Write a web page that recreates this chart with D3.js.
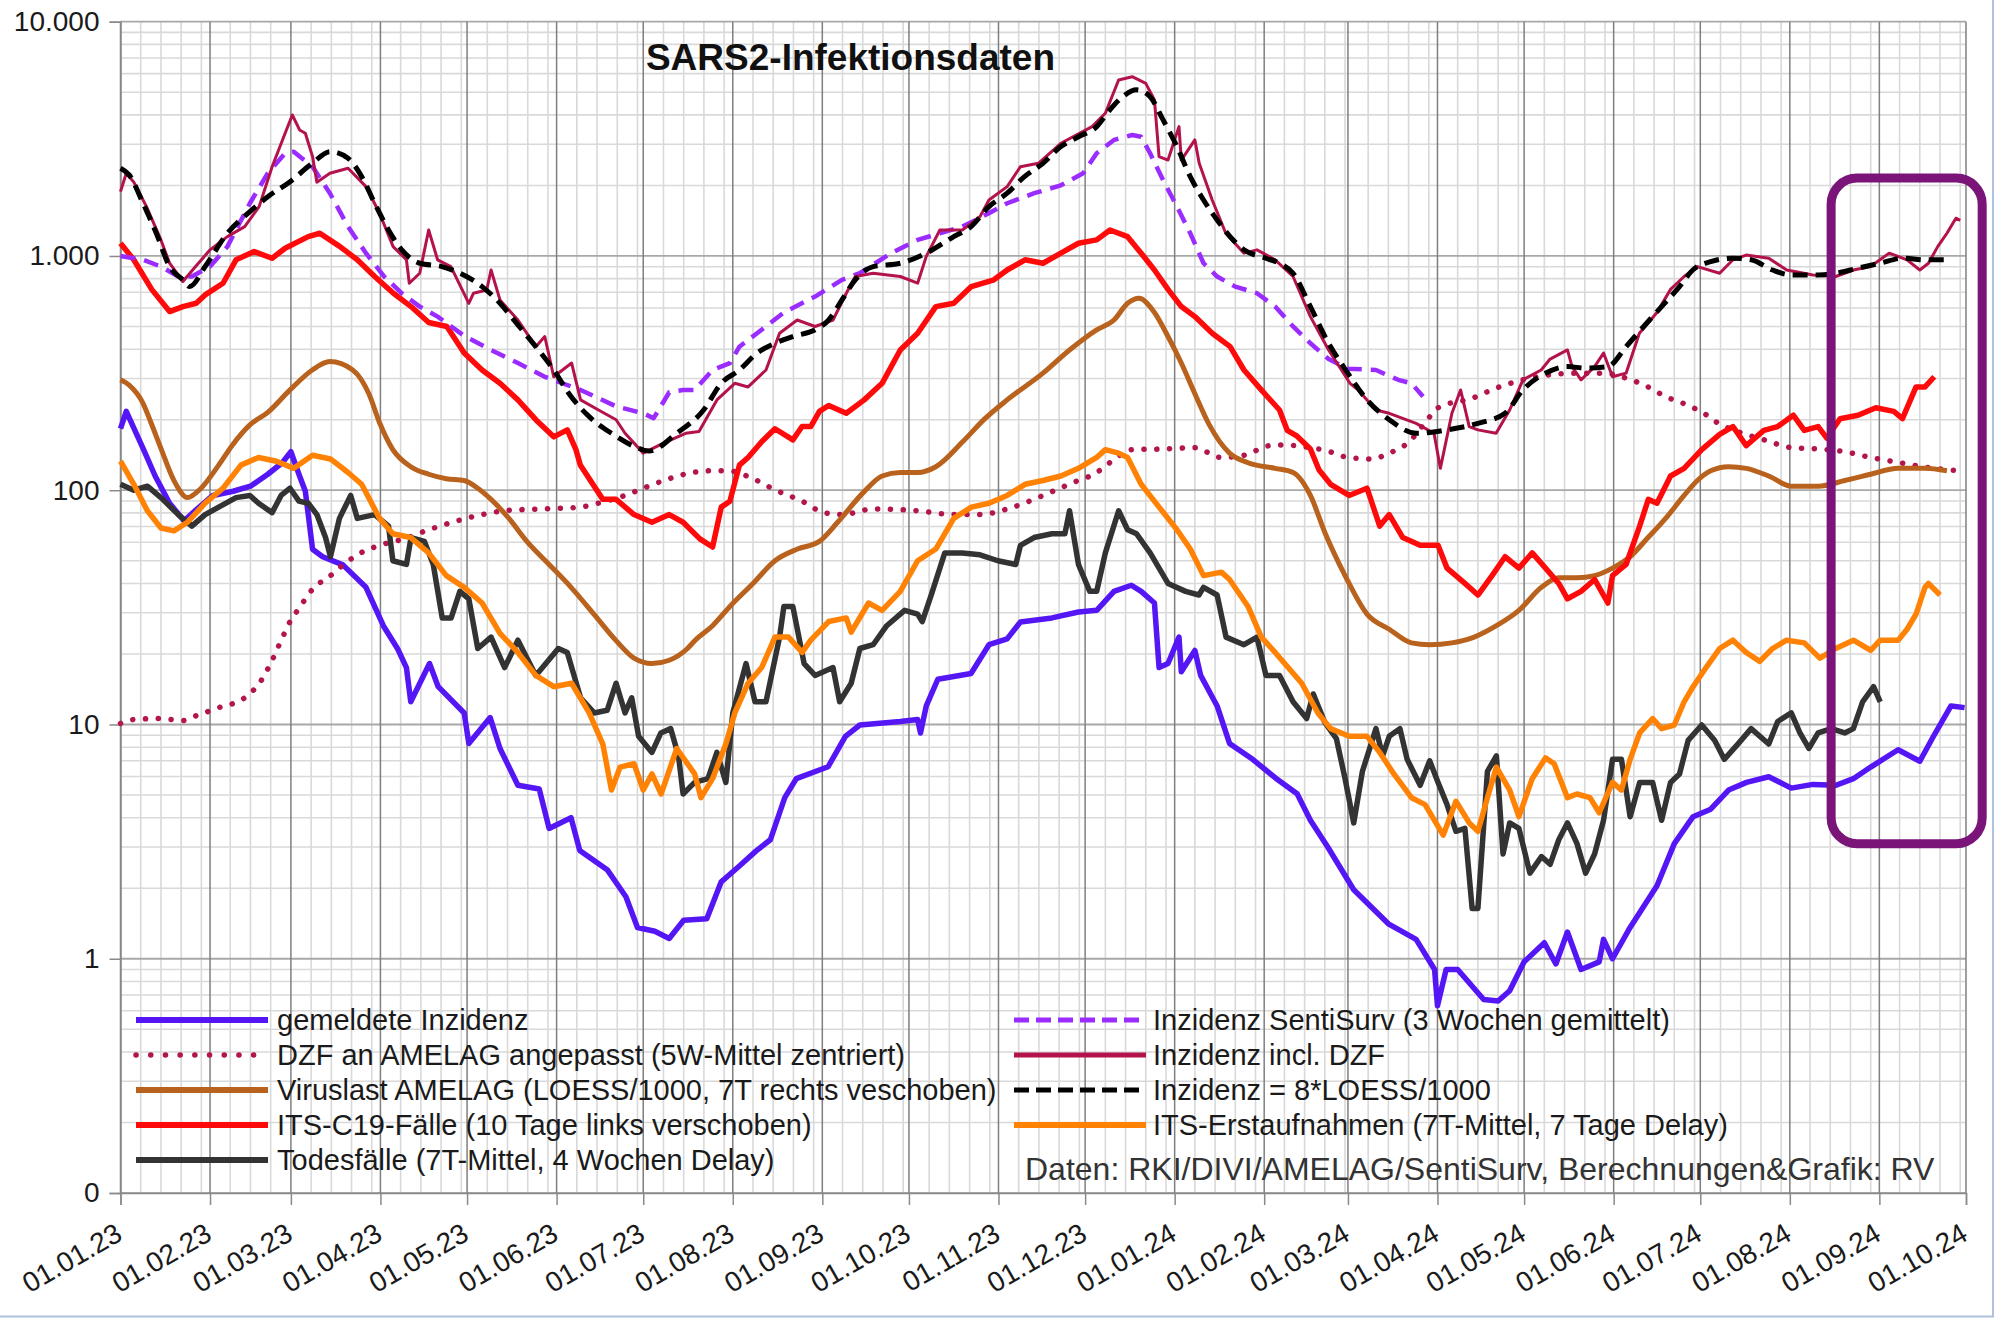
<!DOCTYPE html>
<html><head><meta charset="utf-8">
<script src="https://cdn.jsdelivr.net/npm/d3@7"></script>
<style>
html,body{margin:0;padding:0;background:#fff;}
svg{display:block;font-family:"Liberation Sans",Arial,sans-serif;}
</style>
</head><body>
<svg id="chart" width="2000" height="1318"></svg>
<script>
// ---------- DATA (x = day offset from 01.01.2023, y = value) ----------
const gemeldeteInzidenz = [[0,183],[2,217],[8,149],[12,115],[17,88],[22,74],[26,82],[32,95],[39,99],[45,104],[51,117],[56,131],[59,146],[62,115],[64,99],[66.5,56],[70,52],[77,48],[85,38.5],[91,26.4],[96,21],[99,17.5],[100.5,12.5],[107,18.2],[110,14.5],[119,11.2],[120.6,8.3],[128,10.7],[131.4,7.9],[137.6,5.5],[145,5.3],[148.4,3.6],[156,4.0],[159,2.9],[168.5,2.4],[175,1.84],[179,1.36],[185,1.31],[190,1.22],[195,1.46],[203,1.48],[208,2.13],[214,2.47],[220,2.88],[225,3.22],[230,4.87],[234,5.87],[245,6.6],[251,8.9],[256,9.95],[270,10.3],[276,10.5],[277,9.2],[279,12],[283,15.6],[294.5,16.5],[300.7,21.9],[307,23.2],[311.6,27.4],[322.5,28.5],[331.7,30.2],[338,30.7],[344,37],[350,39.3],[353.4,37],[358,33],[359.6,17.5],[362.7,18.2],[366.5,23.6],[367.3,16.8],[372,20.7],[374,16.2],[379.7,12],[384,8.3],[392,7.1],[400,5.9],[407.4,5.06],[412,3.9],[418,3.0],[427,1.97],[439,1.41],[448.6,1.21],[455,0.9],[456,0.63],[459,0.9],[463,0.9],[472,0.67],[477,0.66],[481,0.73],[486,0.97],[493,1.17],[497,0.95],[501,1.3],[505.7,0.9],[512,0.97],[513.5,1.21],[516.6,1.0],[522.7,1.36],[532,2.05],[538,3.1],[544.5,4.04],[550.6,4.35],[556.8,5.25],[563,5.66],[570.7,5.98],[578.5,5.35],[586,5.55],[594,5.5],[600,5.87],[606,6.58],[615.5,7.8],[623,6.97],[627.7,8.89],[633.8,12],[638.5,11.8]];

const dzfAngepasst = [[0,10.1],[4.6,10.5],[13,10.6],[21.6,10.4],[26.2,10.9],[34,11.8],[43,13],[49,15.6],[52.5,18.8],[55.6,22.8],[58.7,27.5],[61.8,31.3],[66.5,37.8],[72.7,43.2],[77.3,48.2],[82,53],[89.7,58.2],[97.4,61.6],[106.7,67.8],[115.9,73.6],[125.2,78.7],[132.9,81.7],[145.3,83.2],[159.2,84.7],[165.4,88],[174.7,95],[181,102],[190,112],[198,119],[204,121],[210.4,121],[219,112],[226.6,100.4],[236,89.8],[243.6,80.2],[250,78.7],[260.6,83.2],[276,81.7],[288.5,78.7],[297.6,78.7],[307,83.2],[314.7,89.8],[322.5,98.6],[330,108],[338,119],[342.5,131],[350.3,149],[361,150],[372,152],[381,138],[389,141],[398,155],[403,156],[412,152],[418,147],[425,138],[433,136],[439.3,144],[446.2,161],[451.7,194],[456.2,225],[468,247],[476.4,273],[485.6,296],[495,311],[504.3,316],[513.5,316],[519.7,305],[528.9,276],[535,251],[541.4,234],[548.5,212],[553,194],[560,178],[569.2,164],[578.5,152],[587.8,150],[597,146],[606,138],[614.7,132],[624,126],[637,121]];

const viruslastAmelag = [[0,296],[3,281],[7.8,235],[10.5,195],[13.9,152],[18.5,110],[23.2,93],[27.9,102],[34,128],[38.6,155],[44.8,190],[51,215],[58.7,268],[66.4,326],[72.5,354],[80.4,326],[86,258],[89.7,194],[94.3,149],[100.5,126],[106.7,117],[112.8,112],[119,110],[123.7,102],[128.3,91.4],[134.5,75.8],[140.7,60.5],[148.4,48.2],[156,38.5],[163.9,29.6],[171.6,22.8],[177.8,19.2],[184,18.2],[190,18.8],[196.3,21.1],[199,22.9],[205,26.4],[211,31.9],[219,40],[226.6,50],[234.4,56.1],[242,60.5],[248.3,73],[257.5,98.6],[263.7,115],[270,119],[276,119],[282.3,126],[291.6,161],[299.3,202],[307,243],[319.4,316],[328.6,397],[338,484],[344,533],[348.7,628],[352.6,660],[358,574],[362.7,453],[367.3,349],[372,258],[377,190],[384,144],[390.4,131],[399.8,124],[406,119],[412,95],[417,66],[424,43.2],[431.6,29.6],[439.3,25.5],[447,22.3],[453.3,21.9],[461,22.3],[468.7,23.6],[476.4,26.4],[484.2,30.7],[492,38.5],[498,42.3],[504.3,42.3],[510.4,43.2],[516.6,46.5],[522.7,52],[528.9,62.8],[535,75.8],[541.4,95],[546,110],[550.6,121],[556.8,126],[562.9,124],[570.7,115],[578.5,104],[587.8,104],[597,110],[606,117],[615.5,124],[624.8,124],[632.4,121]];

const itsFaelle = [[0,1133],[4.6,963],[10.8,720],[17,579],[21.6,608],[26.2,628],[29.3,682],[35.5,765],[40,963],[46.3,1044],[52.5,978],[57,1079],[65,1209],[69,1250],[76,1096],[82,963],[88,817],[94.5,693],[100.6,608],[106.7,520],[113,500],[119,385],[125.2,326],[131.4,286],[137.6,243],[143.8,200],[150,169],[154.7,181],[157.7,149],[159.2,128],[167,91.4],[171.6,91.4],[177.8,78.7],[184,73],[190,78.7],[194.8,73],[200.6,62],[205,57.2],[208,84.7],[211,89.8],[214.3,128],[217.3,138],[222,161],[226.6,183],[232.8,164],[236,187],[239,187],[242,217],[245.2,230],[251.3,213],[257.5,243],[263.7,286],[270,397],[276,468],[282.3,608],[288.5,628],[294.6,740],[302.4,791],[307,871],[313.2,963],[319.4,931],[325.6,1028],[331.7,1133],[338,1171],[342.6,1291],[348.7,1209],[353.4,1028],[358,871],[362.7,720],[367.3,608],[372,551],[378,468],[384.2,410],[389,326],[395,268],[401.3,220],[404,180],[407.4,170],[412,150],[415,122],[419,106],[425.4,95],[431.6,102],[436,70.3],[439.3,78.7],[444,62.8],[450,58.2],[456.2,58.2],[459.3,46.5],[465.5,40],[470,35.7],[474.9,43.2],[479.4,52],[484.2,46.5],[488.8,54],[493.4,46.5],[498,40],[501,34.4],[505.7,37],[510.4,41.6],[515,33],[516.6,43.2],[521.3,48.2],[526,70.3],[529,91.4],[532,88],[536.7,115],[541.4,124],[547.5,149],[553.7,173],[558.3,187],[562.9,155],[569,180],[573.8,187],[579.2,209],[583,180],[587.8,187],[590.8,167],[595.4,202],[601.6,209],[607.8,225],[614,217],[617,202],[621.7,276],[624.8,276],[628,305]];

const todesfaelle = [[0,106],[4.6,100],[9.3,104],[14,93],[20,78.7],[24.7,70.3],[29.3,78.7],[34,84.7],[40,93],[44.8,95],[47.8,88],[52.5,80.2],[55.6,95],[58.7,102],[61.8,89.8],[65,88],[68,78.7],[71,62.8],[72.7,52],[75.8,75.8],[79.7,95],[82,75.8],[88,78.7],[92.8,70.3],[94.3,50],[99,48.2],[100.6,62.8],[105.2,60.5],[108.3,48.2],[111.4,28.5],[114.5,28.5],[117.5,37],[120.6,34.4],[123.7,21.1],[128.3,23.6],[133,17.5],[137.6,22.9],[143.8,16.2],[151.6,21.1],[154.7,20.3],[159.3,13],[164,11.2],[168.5,11.5],[171.6,15],[174.7,11.2],[177,13],[179.4,8.9],[184,7.6],[187.1,9.2],[190.5,9.6],[193.2,7.35],[194.8,5.05],[198.8,5.66],[203.4,5.87],[206.5,7.6],[209.6,5.66],[212,11.2],[216.6,18.2],[219.7,12.5],[223.5,12.5],[228.2,23.6],[229.7,31.9],[232.8,31.9],[236.7,18.2],[240.5,16.2],[246.7,17.5],[249,12.5],[253,15],[256,21.1],[260.6,21.9],[265.3,26.4],[271.5,30.7],[276,29.6],[277.6,27.5],[280.7,35.7],[285.4,54],[291.5,54],[297.6,53],[303.8,50],[310,48.2],[311.6,58.2],[316.3,62.8],[322.5,65.2],[327,65.2],[328.6,81.7],[331.7,48.2],[335.6,37],[338,37],[341,54],[345.6,81.7],[348.7,67.8],[351.8,65.2],[356.5,54],[362.7,40],[368.8,37],[373.4,35.7],[375,38.5],[379.7,35.7],[382.8,23.6],[389,21.9],[393.5,23.6],[396.6,16.2],[401.3,16.2],[406,12.5],[410.7,10.6],[413,13.5],[417,10.2],[421,8.7],[424,5.87],[427,3.8],[430,6.3],[434.7,9.6],[437,7.35],[439.3,8.9],[443,9.6],[445.5,7.1],[450,5.5],[453.3,7],[456.2,5.66],[459.3,4.55],[462.4,3.5],[465.5,3.6],[468,1.64],[470,1.64],[473.3,6.3],[476.4,7.35],[478.7,2.8],[481,3.8],[484.2,3.6],[488,2.32],[492,2.73],[495,2.53],[498,3.22],[501,3.8],[504.3,3.1],[507.3,2.32],[510.4,2.8],[513.5,3.9],[516.6,7.1],[519.7,7.1],[522.7,4.04],[526,5.66],[530.5,5.66],[533.6,3.9],[536.7,5.66],[539.8,6.15],[542.8,8.55],[547.5,9.95],[552,8.55],[555.3,7.1],[560,8.25],[564.6,9.6],[570.7,8.25],[573.8,10.3],[578.5,11.2],[581.5,9.2],[584.6,7.9],[587.8,9.2],[592.4,9.6],[597,9.2],[600,9.6],[603.2,12.5],[607,14.5],[609.3,12.5]];

const sentiSurv = [[0,1000],[7.8,963],[14,901],[20,817],[24.7,817],[31,901],[37,1096],[44.8,1679],[51,2254],[57,2744],[60,2788],[66.5,2405],[72.5,1853],[78.8,1334],[85,1028],[91.3,817],[97.4,693],[103.6,608],[109.8,551],[119,456],[128.3,397],[137.6,349],[146.9,305],[159.3,268],[171.6,228],[181,213],[184.6,203],[190,262],[194.8,268],[198.8,268],[205,326],[211,349],[214.3,410],[220.4,468],[229.7,574],[240.5,671],[249.8,791],[256,844],[266.8,1028],[276,1171],[283.7,1250],[291.5,1334],[300.7,1521],[307,1679],[316.4,1853],[325.6,2003],[333.3,2254],[338,2744],[344,3128],[350.3,3285],[353.4,3228],[356.5,2744],[361,2106],[365.8,1624],[370.4,1250],[375,931],[379.7,817],[386,740],[393.5,693],[399.8,608],[406,500],[412,424],[418.3,363],[425,330],[434.7,326],[442.4,296],[447,286],[451,251]];

const inzidenzInclDzf = [[0,1882],[2,2254],[4.6,2066],[9,1624],[14,1171],[17,931],[21.6,778],[26,901],[31,1062],[37,1209],[43,1334],[48,1624],[52.5,2405],[57,3339],[59.5,3997],[62,3450],[64,3339],[66.5,2655],[68,2066],[72.5,2254],[78.8,2368],[85,1977],[89.7,1521],[94.4,1096],[99,963],[100,765],[103.6,844],[106.7,1291],[109.8,963],[114.4,901],[120.6,628],[122.2,693],[126.8,716],[128.3,871],[131.4,649],[137.6,533],[143.8,410],[146.9,453],[150,305],[156.2,349],[159.3,243],[165.5,220],[171.6,200],[174.7,175],[181,144],[188,159],[195.7,175],[200.3,178],[206.5,243],[212.7,286],[217.3,276],[223.5,326],[228.2,468],[234.3,533],[240.5,500],[246.7,533],[251.3,693],[254.4,817],[260.6,844],[270,817],[276,765],[279,996],[283.7,1291],[291.5,1291],[297.6,1472],[300.7,1734],[307,1977],[311.6,2405],[317.8,2486],[325.6,3027],[336.4,3565],[341,4064],[345.6,5641],[350.3,5825],[355,5457],[358,4633],[359.6,2655],[362.7,2567],[366.5,3565],[367.3,2567],[372,3128],[373.5,2486],[378,1734],[382.7,1250],[389,1028],[393.5,1062],[399.8,963],[406,817],[412,551],[418.3,397],[425.7,286],[428.5,268],[434.7,220],[439.3,213],[448.6,193],[454.8,175],[457,124],[461,213],[464,268],[467,187],[470,181],[476.3,175],[481,220],[485.6,296],[491.9,326],[495,363],[501,397],[502.6,337],[505.7,296],[510.4,337],[513.5,385],[516.6,305],[521.3,316],[525.9,468],[532,574],[536.7,720],[541.4,817],[546,901],[553.7,844],[558.3,963],[562.9,1009],[570.7,978],[576.9,871],[586,830],[593.9,817],[600,871],[606,901],[612.4,1028],[618.6,963],[623,871],[626,931],[629.2,1096],[632.4,1250],[635.5,1449],[637,1420]];

const inzidenzLoess = [[0,2368],[3,2218],[7.8,1679],[12.4,1250],[17,901],[21.6,791],[24,740],[29.3,901],[37,1250],[44.8,1546],[51,1791],[58.7,2076],[66.4,2486],[72.5,2788],[78.8,2612],[83.5,2181],[88,1679],[92.8,1291],[97.4,1062],[103.6,931],[111.3,901],[117.5,844],[125.2,740],[131.4,628],[137.6,508],[143.8,410],[150,326],[156,251],[162.3,206],[170,175],[177.8,154],[183,147],[192.6,175],[201.9,220],[208,286],[214.3,326],[220.4,385],[226.6,424],[232.8,453],[240.5,484],[245.2,533],[249.8,649],[254.4,791],[260.6,901],[270,931],[279,1028],[288.5,1209],[294.5,1334],[300.7,1624],[307,1853],[313,2181],[319.4,2486],[325.6,2930],[331.7,3228],[338,3565],[342.5,4198],[347,4786],[351.8,5117],[356.5,4786],[361,3808],[365.8,2930],[370.4,2181],[375,1734],[379.7,1425],[384.2,1209],[389,1062],[396.6,978],[401.2,931],[406,844],[412,608],[418,430],[424.3,325],[431.6,243],[439.3,200],[448.6,175],[459.3,181],[470,193],[479.4,213],[485.6,268],[493.4,316],[501,337],[507.3,332],[515,337],[521.3,410],[527.4,500],[533.6,608],[539.8,740],[544.4,871],[550.6,946],[558.3,978],[564.6,963],[572,871],[578.5,830],[587.8,830],[593.9,844],[601.6,887],[609.3,931],[617,978],[624.8,963],[632.5,963]];

const itsErstaufnahmen = [[0,133],[4.6,106],[9.3,81.7],[14,69],[18.5,67.1],[23.2,73],[29.3,88],[35.5,102],[41.7,128],[47.8,138],[54,133],[60,124],[66.5,141],[72.7,136],[78.8,119],[83.5,106],[89.7,75.8],[94.3,65.2],[100.5,62.8],[106.7,54],[112.8,43.2],[119,38.5],[125.2,33],[131.4,24.5],[137.6,20.3],[143.8,16.2],[150,14.5],[156.2,15],[162.3,11.2],[167,8.25],[170,5.25],[173,6.58],[177.8,6.8],[181,5.25],[184,6.15],[187.2,5.05],[192.6,7.9],[198.8,6.15],[201,4.87],[205,5.87],[209.6,8.25],[212.7,11.2],[217.3,15],[222,17.5],[226.6,23.6],[231.3,23.6],[236,20.3],[239,22.9],[245.2,27.5],[251.3,28.5],[253,24.8],[259,33],[263.7,30.7],[270,37],[276,50],[282.3,56.1],[288.5,75.8],[294.6,84.7],[300.7,88],[307,95],[313.2,106],[319.4,110],[325.6,115],[331.7,124],[338,138],[341,149],[345.6,144],[348.7,138],[353.4,106],[359.6,84.7],[365.8,67.8],[370.4,56.1],[375,43.2],[381.2,44.7],[384,41.6],[390.4,31.9],[395,23.6],[399.8,20.3],[404.3,17.5],[409,15],[414.6,11.2],[419,9.6],[425.4,8.9],[431.6,8.9],[436,7.6],[440.9,6.15],[447,4.87],[451.7,4.55],[458,3.37],[462.4,4.7],[467,3.8],[470,3.5],[473.3,4.87],[476.4,6.58],[481,5.25],[484.2,4.04],[488.8,5.87],[493.4,7.2],[496.4,6.8],[501,4.87],[504.3,5.05],[508.8,4.87],[512,4.2],[516.6,5.66],[519.7,5.25],[522.7,7.1],[526,9.2],[530.5,10.6],[533.6,9.6],[538,9.95],[541.4,12.5],[544.5,14.5],[549,17.5],[553.7,21.1],[558.3,22.9],[562.9,20.3],[567.6,18.6],[572,21.1],[576.9,22.9],[583,22.3],[588.4,19.2],[593.9,21.1],[600,22.9],[606,20.7],[609.3,22.9],[615.5,22.9],[618.6,25.5],[621.7,29.6],[624.8,38.5],[626,40],[630,35.7]];

const xTickLabels = ["01.01.23","01.02.23","01.03.23","01.04.23","01.05.23","01.06.23","01.07.23","01.08.23","01.09.23","01.10.23","01.11.23","01.12.23","01.01.24","01.02.24","01.03.24","01.04.24","01.05.24","01.06.24","01.07.24","01.08.24","01.09.24","01.10.24"];
const yTickValues = [0.1, 1, 10, 100, 1000, 10000];
const yTickLabels = ["0", "1", "10", "100", "1.000", "10.000"];
const legendLeft = ["gemeldete Inzidenz","DZF an AMELAG angepasst (5W-Mittel zentriert)","Viruslast AMELAG (LOESS/1000, 7T rechts veschoben)","ITS-C19-Fälle (10 Tage links verschoben)","Todesfälle (7T-Mittel, 4 Wochen Delay)"];
const legendRight = ["Inzidenz SentiSurv (3 Wochen gemittelt)","Inzidenz incl. DZF","Inzidenz = 8*LOESS/1000","ITS-Erstaufnahmen (7T-Mittel, 7 Tage Delay)"];
const titleText = "SARS2-Infektionsdaten";
const sourceText = "Daten: RKI/DIVI/AMELAG/SentiSurv, Berechnungen&Grafik: RV";
// highlighted region (annotation): day range and value range
const highlight = {from: 592.3, to: 644.6, top: 2150, bottom: 3.1};

// ---------- CHART ----------
const START = Date.UTC(2023, 0, 1);
const toDate = d => new Date(START + d * 86400000);
const svg = d3.select("#chart");
const x = d3.scaleUtc().domain([new Date(START), new Date(Date.UTC(2024, 9, 1))]).range([120.5, 1966]);
const y = d3.scaleLog().domain([0.1, 10000]).range([1193, 21.7]);
const [X0, X1] = x.range();
const [Y0, Y1] = y.range();

const grid = svg.append("g");
const minorY = [];
yTickValues.slice(0, -1).forEach(v => { for (let k = 2; k <= 9; k++) minorY.push(v * k); });
grid.selectAll(".hmin").data(minorY).join("line")
  .attr("x1", X0).attr("x2", X1).attr("y1", d => y(d)).attr("y2", d => y(d))
  .attr("stroke", "#d9d9d9").attr("stroke-width", 1.6);
const monthStarts = d3.utcMonth.range(new Date(START), new Date(Date.UTC(2024, 9, 2)));
const minorX = [];
monthStarts.forEach(m => {
  const next = d3.utcMonth.offset(m, 1);
  for (let k = 7; k <= 28; k += 7) {
    const d = d3.utcDay.offset(m, k);
    if (d < next && d < x.domain()[1]) minorX.push(d);
  }
});
grid.selectAll(".vmin").data(minorX).join("line")
  .attr("x1", d => x(d)).attr("x2", d => x(d)).attr("y1", Y1).attr("y2", Y0)
  .attr("stroke", "#d9d9d9").attr("stroke-width", 1.6);
grid.selectAll(".hmaj").data(yTickValues).join("line")
  .attr("x1", X0).attr("x2", X1).attr("y1", d => y(d)).attr("y2", d => y(d))
  .attr("stroke", "#a8a8a8").attr("stroke-width", 1.8);
grid.selectAll(".vmaj").data(monthStarts).join("line")
  .attr("x1", d => x(d)).attr("x2", d => x(d)).attr("y1", Y1).attr("y2", Y0)
  .attr("stroke", "#7f7f7f").attr("stroke-width", 1.5);

const yAxis = svg.append("g").attr("transform", `translate(${X0},0)`)
  .call(d3.axisLeft(y).tickValues(yTickValues).tickFormat((d, i) => yTickLabels[i]).tickSize(11).tickPadding(10));
yAxis.select(".domain").attr("stroke", "#8a8a8a").attr("stroke-width", 1.5);
yAxis.selectAll(".tick line").attr("stroke", "#8a8a8a").attr("stroke-width", 1.5);
yAxis.selectAll("text").attr("font-size", 28).attr("fill", "#1a1a1a").attr("font-family", "Liberation Sans, Arial, sans-serif");

const xAxis = svg.append("g").attr("transform", `translate(0,${Y0})`)
  .call(d3.axisBottom(x).tickValues(monthStarts).tickFormat((d, i) => xTickLabels[i]).tickSize(12));
xAxis.select(".domain").attr("stroke", "#8a8a8a").attr("stroke-width", 1.5);
xAxis.selectAll(".tick line").attr("stroke", "#8a8a8a").attr("stroke-width", 1.5);
xAxis.selectAll("text").attr("font-size", 28).attr("fill", "#1a1a1a")
  .attr("font-family", "Liberation Sans, Arial, sans-serif")
  .attr("x", 0).attr("y", 0).attr("dy", 0)
  .attr("text-anchor", "end")
  .attr("transform", "translate(3,46) rotate(-30)");

const series = [
  {data: gemeldeteInzidenz, color: "#5416f5", width: 5.5, dash: null, curve: d3.curveLinear},
  {data: dzfAngepasst, color: "#b3164c", width: 5.5, dash: "0.1,12.7", curve: d3.curveMonotoneX, cap: "round"},
  {data: viruslastAmelag, color: "#b8621e", width: 5, dash: null, curve: d3.curveMonotoneX},
  {data: itsFaelle, color: "#ff0a0a", width: 5.5, dash: null, curve: d3.curveLinear},
  {data: todesfaelle, color: "#333333", width: 5.5, dash: null, curve: d3.curveLinear},
  {data: sentiSurv, color: "#9b2cff", width: 4.5, dash: "15,9", curve: d3.curveLinear},
  {data: inzidenzInclDzf, color: "#b3124c", width: 3, dash: null, curve: d3.curveLinear},
  {data: inzidenzLoess, color: "#000000", width: 5, dash: "15,8", curve: d3.curveMonotoneX},
  {data: itsErstaufnahmen, color: "#ff8205", width: 5.5, dash: null, curve: d3.curveLinear}
];
const plot = svg.append("g");
series.forEach(s => {
  const line = d3.line().x(d => x(toDate(d[0]))).y(d => y(d[1])).curve(s.curve);
  plot.append("path").attr("d", line(s.data)).attr("fill", "none")
    .attr("stroke", s.color).attr("stroke-width", s.width)
    .attr("stroke-linejoin", "round")
    .attr("stroke-linecap", s.cap || "butt")
    .attr("stroke-dasharray", s.dash);
});

svg.append("text").attr("x", 850.5).attr("y", 70).attr("text-anchor", "middle")
  .attr("font-size", 37).attr("font-weight", "bold").attr("fill", "#111").text(titleText);

const legendStyle = [
  {color: "#5416f5", dash: null, width: 6},
  {color: "#b3164c", dash: "0.1,14.6", width: 5.5, cap: "round"},
  {color: "#b8621e", dash: null, width: 6},
  {color: "#ff0a0a", dash: null, width: 6},
  {color: "#333333", dash: null, width: 6},
  {color: "#9b2cff", dash: "15,7", width: 5},
  {color: "#b3124c", dash: null, width: 5},
  {color: "#000000", dash: "15,7", width: 5},
  {color: "#ff8205", dash: null, width: 6}
];
const leg = svg.append("g");
function legendRow(label, st, lx1, lx2, tx, cy) {
  leg.append("line").attr("x1", lx1).attr("x2", lx2).attr("y1", cy).attr("y2", cy)
    .attr("stroke", st.color).attr("stroke-width", st.width)
    .attr("stroke-dasharray", st.dash).attr("stroke-linecap", st.cap || "butt");
  leg.append("text").attr("x", tx).attr("y", cy + 10).attr("font-size", 29)
    .attr("fill", "#1a1a1a").text(label);
}
legendLeft.forEach((l, i) => legendRow(l, legendStyle[i], 136, 268, 277, 1020 + i * 35));
legendRight.forEach((l, i) => legendRow(l, legendStyle[5 + i], 1014, 1146, 1153, 1020 + i * 35));
svg.append("text").attr("x", 1025).attr("y", 1180).attr("font-size", 32).attr("fill", "#333").text(sourceText);

const hx0 = x(toDate(highlight.from)), hx1 = x(toDate(highlight.to));
const hy0 = y(highlight.top), hy1 = y(highlight.bottom);
svg.append("rect").attr("x", hx0).attr("y", hy0).attr("width", hx1 - hx0).attr("height", hy1 - hy0)
  .attr("rx", 26).attr("ry", 26).attr("fill", "none").attr("stroke", "#7a1478").attr("stroke-width", 9);

svg.append("line").attr("x1", 1993).attr("x2", 1993).attr("y1", 0).attr("y2", 1317).attr("stroke", "#adc2dc").attr("stroke-width", 2);
svg.append("line").attr("x1", 0).attr("x2", 1994).attr("y1", 1316.5).attr("y2", 1316.5).attr("stroke", "#adc2dc").attr("stroke-width", 2);
</script>
</body></html>
